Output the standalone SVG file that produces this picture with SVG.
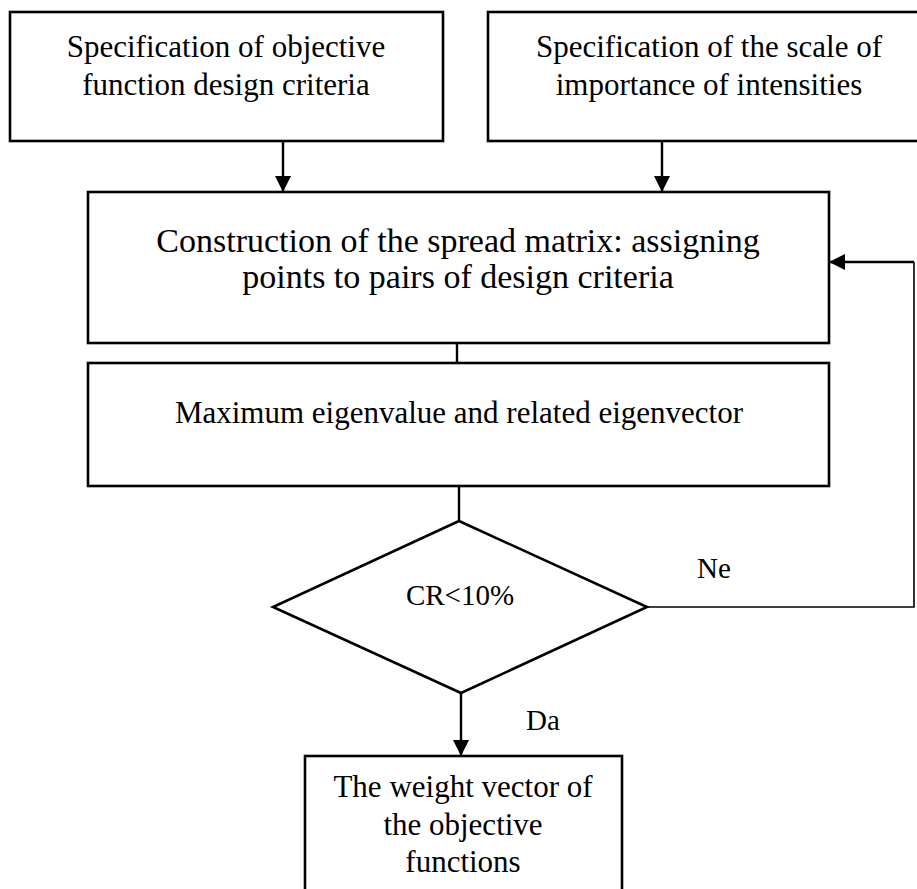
<svg xmlns="http://www.w3.org/2000/svg" width="917" height="889" viewBox="0 0 917 889">
<style>
.box{fill:#fff;stroke:#000;stroke-width:2.6}
.t{font-family:"Liberation Serif","Times New Roman",serif;font-size:31px;fill:#000;text-anchor:middle}
.c{fill:none;stroke:#000;stroke-width:2.4}
.thin{fill:none;stroke:#000;stroke-width:1.6}
</style>
<defs>
<marker id="ah" viewBox="0 0 16 16" refX="16" refY="8" markerWidth="16" markerHeight="16" markerUnits="userSpaceOnUse" orient="auto">
<path d="M0,0 L16,8 L0,16 Z" fill="#000"/>
</marker>
</defs>
<rect width="917" height="889" fill="#fff"/>
<g id="n1">
<rect class="box" x="10" y="12" width="433" height="129"/>
<text class="t" x="226" y="57">Specification of objective</text>
<text class="t" x="226" y="95">function design criteria</text>
</g>
<g id="n2">
<rect class="box" x="488" y="12" width="450" height="129"/>
<text class="t" x="709" y="57">Specification of the scale of</text>
<text class="t" x="709" y="95">importance of intensities</text>
</g>
<g id="n3">
<rect class="box" x="88" y="192" width="741" height="151"/>
<text class="t" x="458" y="252" style="font-size:34px">Construction of the spread matrix: assigning</text>
<text class="t" x="458" y="288" style="font-size:34px">points to pairs of design criteria</text>
</g>
<g id="n4">
<rect class="box" x="88" y="363" width="741" height="123"/>
<text class="t" x="459" y="423">Maximum eigenvalue and related eigenvector</text>
</g>
<g id="n5">
<polygon class="box" points="459,521 647,607 461,693 273,607"/>
<text class="t" x="460" y="605" style="font-size:29px">CR&lt;10%</text>
</g>
<g id="n6">
<rect class="box" x="305" y="756" width="317" height="150"/>
<text class="t" x="463" y="797">The weight vector of</text>
<text class="t" x="463" y="835">the objective</text>
<text class="t" x="463" y="872">functions</text>
</g>
<g id="connectors">
<line class="c" x1="283" y1="141" x2="283" y2="192" marker-end="url(#ah)"/>
<line class="c" x1="662" y1="141" x2="662" y2="192" marker-end="url(#ah)"/>
<line class="c" x1="457" y1="343" x2="457" y2="363"/>
<line class="c" x1="459" y1="486" x2="459" y2="521"/>
<line class="c" x1="461" y1="693" x2="461" y2="756" marker-end="url(#ah)"/>
<polyline class="thin" points="647,607 914,607 914,262"/>
<line class="c" x1="914" y1="262" x2="829" y2="262" marker-end="url(#ah)"/>
<text class="t" x="714" y="578" style="font-size:29px">Ne</text>
<text class="t" x="543" y="730" style="font-size:29px">Da</text>
</g>
</svg>
